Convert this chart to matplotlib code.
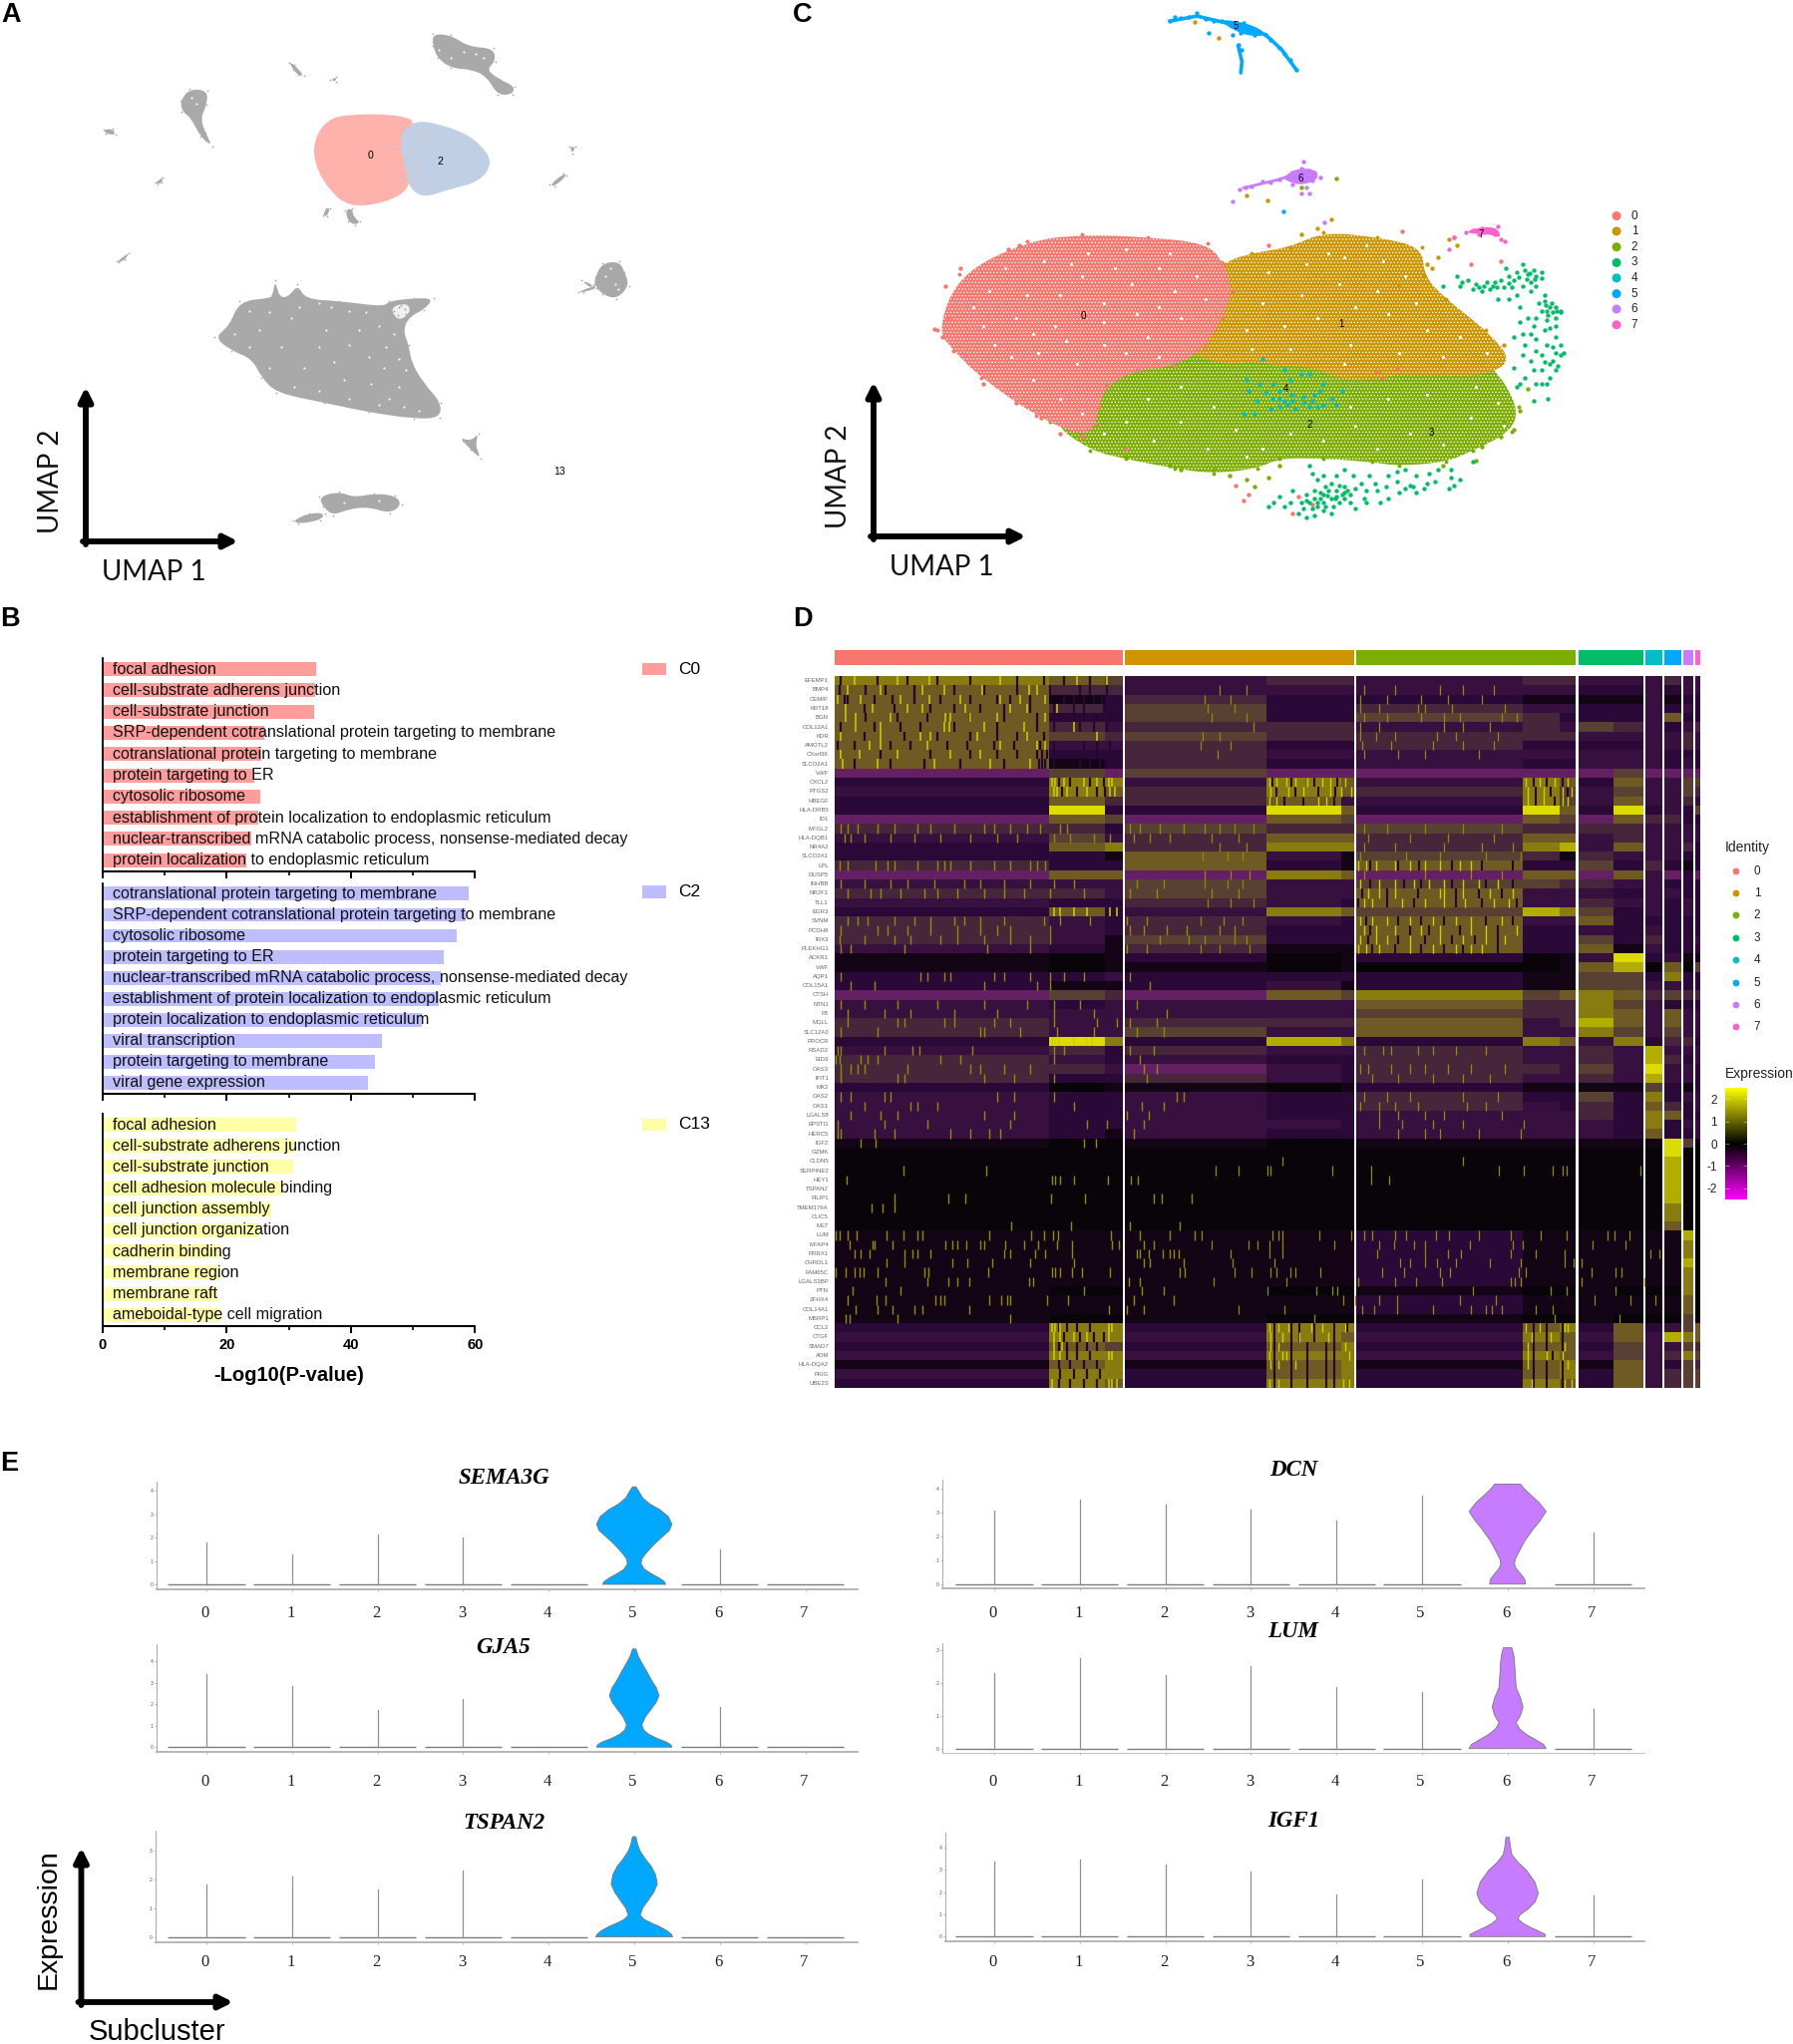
import matplotlib
matplotlib.use("Agg")
import matplotlib.pyplot as plt
import numpy as np
from matplotlib.colors import LinearSegmentedColormap, ListedColormap
from matplotlib.path import Path
from matplotlib.patches import PathPatch
from matplotlib.transforms import ScaledTranslation

W, H = 1799, 2050
fig = plt.figure(figsize=(W / 100, H / 100), dpi=100, facecolor="white")
plt.rcParams["font.family"] = ["Liberation Sans", "DejaVu Sans"]
plt.rcParams["hatch.linewidth"] = 0.6


def pax(x0, y0, x1, y1, **kw):
    return fig.add_axes([x0 / W, 1 - y1 / H, (x1 - x0) / W, (y1 - y0) / H], **kw)


def blob(ax, poly, **kw):
    """Filled region with rounded corners: the outline vertices act as Bezier control points."""
    pts = np.array(poly, float)
    mids = (pts + np.roll(pts, -1, axis=0)) / 2
    verts, codes = [mids[-1]], [Path.MOVETO]
    for p, m in zip(pts, mids):
        verts += [p, m]
        codes += [Path.CURVE3, Path.CURVE3]
    patch = PathPatch(Path(verts, codes), **kw)
    ax.add_patch(patch)
    return patch


HUES = ["#F8766D", "#CD9600", "#7CAE00", "#00BE67", "#00BFC4", "#00A9FF", "#C77CFF", "#FF61CC"]
CLUSTERS = ["0", "1", "2", "3", "4", "5", "6", "7"]

# ---------- Panel A: UMAP regions (outlines) ----------
A_GRAY = [
    [(430,880),(460,850),(480,785),(540,778),(547,770),(552,730),(560,775),(578,775),(597,742),(612,780),(680,785),
     (770,800),(780,785),(830,778),(870,778),(850,808),(822,825),(808,860),(820,900),(825,945),(850,1000),(885,1050),
     (882,1090),(830,1092),(740,1075),(650,1050),(555,1025),(525,985),(505,935),(465,915)],
    [(868,88),(905,92),(940,122),(990,126),(994,160),(975,182),(1003,208),(1032,225),(1028,246),(998,248),(978,203),
     (950,182),(905,178),(878,152),(868,120)],
    [(362,262),(380,232),(416,236),(415,272),(402,310),(412,345),(426,382),(402,357),(383,307),(365,290)],
    [(580,163),(590,168),(610,198),(598,196),(588,181)],
    [(663,209),(674,201),(674,212)],
    [(208,338),(226,336),(232,352),(213,349)],
    [(312,476),(327,462),(325,476),(316,480)],
    [(235,682),(250,667),(259,660),(251,676),(239,685)],
    [(648,562),(654,543),(662,543),(656,564)],
    [(693,548),(706,543),(710,568),(722,578),(713,587),(698,577)],
    [(1143,383),(1154,383),(1148,400)],
    [(1103,482),(1130,453),(1137,458),(1112,486)],
    [(1194,722),(1208,686),(1242,682),(1253,710),(1262,745),(1237,780),(1208,768),(1192,742)],
    [(1160,761),(1190,746),(1197,752),(1170,762)],
    [(1166,731),(1190,743),(1184,751)],
    [(928,1144),(945,1149),(960,1130),(953,1160),(965,1197),(944,1172),(928,1150)],
    [(640,1295),(680,1282),(710,1297),(750,1287),(792,1292),(806,1316),(782,1339),(740,1322),(700,1327),(668,1344),(648,1322)],
    [(588,1357),(620,1338),(652,1338),(642,1357),(598,1366)],
]
A_POCKET = [(785,800),(815,790),(825,810),(805,835),(790,825)]
A_POCKET_DOTS = [(790,810),(800,800),(812,805),(798,822),(815,818),(805,795),(785,820),(822,800)]
A_SPECKS = [(600,800),(640,790),(665,800),(700,810),(735,815),(655,860),(720,860),(760,850),(790,870),(775,905),(700,900),(640,905),
            (585,830),(540,815),(500,810),(470,870),(500,905),(540,960),(590,1010),(640,1020),(700,1040),(760,1055),(810,1060),(840,1070),
            (800,1010),(745,1000),(690,990),(770,960),(800,935),(740,930),(670,945),(610,960),(565,905),(520,860),(815,965),(780,1040)]
A_BLOB_DOTS = [(880,130),(930,135),(955,140),(970,150),(905,150),(385,255),(395,270),(1215,720),(1235,740),(1225,700),(1240,755),(690,1310),(760,1305)]
A_C0 = [(628,370),(655,312),(700,298),(790,298),(838,316),(800,345),(810,430),(825,492),(770,530),(700,540),(660,495),(632,432)]
A_C2 = [(832,316),(870,320),(930,345),(968,382),(988,425),(962,474),(900,494),(850,516),(822,492),(806,430),(795,345)]
A_C0_EDGE_MIX = [(812,370),(805,400),(795,430),(815,460),(800,470),(820,350),(790,380)]
A_C2_EDGE_MIX = [(835,345),(825,395),(840,440),(828,470),(845,480),(835,420),(850,365)]
A_LABELS = [("0",743,405),("2",882,420),("13",1123,1230)]

a = pax(0, 0, 780, 600)
a.set_xlim(0, 1560); a.set_ylim(1560, 0); a.axis("off")
for poly in A_GRAY:
    blob(a, poly, facecolor="#a9a9a9", lw=0)
    xs, ys = zip(*poly)
    a.scatter(xs, ys, s=1.6, color="#a9a9a9", lw=0)
blob(a, A_POCKET, facecolor="#f1f1f1", lw=0)
xs, ys = zip(*A_POCKET_DOTS); a.scatter(xs, ys, s=2, color="#a9a9a9", lw=0)
xs, ys = zip(*A_SPECKS); a.scatter(xs, ys, s=2.2, color="white", lw=0)
xs, ys = zip(*A_BLOB_DOTS); a.scatter(xs, ys, s=2.2, color="white", lw=0)
blob(a, A_C2, facecolor="#C0CFE3", lw=0)
blob(a, A_C0, facecolor="#FFB1AB", lw=0)
xs, ys = zip(*A_C2_EDGE_MIX); a.scatter(xs, ys, s=3, color="#FFB1AB", lw=0)
xs, ys = zip(*A_C0_EDGE_MIX); a.scatter(xs, ys, s=3, color="#C0CFE3", lw=0)
a.scatter([1112], [1215], s=3, color="#f6e3b0", lw=0)
for t, x, y in A_LABELS:
    a.text(x, y, t, ha="center", va="center", fontsize=7.5)

# ---------- Panel C: UMAP regions and readable sparse points ----------
C_REGIONS = {
    2: [(530,1070),(555,980),(650,900),(800,880),(1000,900),(1200,900),(1270,950),(1318,1060),(1305,1125),(1235,1175),(1185,1205),(1100,1215),
        (1050,1205),(960,1195),(880,1195),(840,1222),(760,1235),(690,1222),(600,1197),(535,1175),(462,1100)],
    1: [(700,800),(775,685),(830,660),(900,645),(960,605),(1060,618),(1142,645),(1145,720),(1185,780),(1258,860),(1310,945),
        (1240,985),(1130,975),(1060,985),(1000,995),(940,955),(880,955),(830,940),(790,955),(725,925),(700,900)],
    0: [(255,860),(295,715),(420,628),(520,612),(640,618),(750,635),(780,690),(795,760),(775,830),(745,905),(690,955),
        (620,965),(565,1005),(550,1060),(545,1105),(522,1140),(436,1085),(335,985),(285,915)],
}
C_DENSE_5 = [(770,52),(800,54),(840,70),(858,92),(830,95),(800,82)]
C_DENSE_6 = [(885,465),(912,438),(948,442),(952,468),(925,482),(905,478)]
C_DENSE_7 = [(1224,602),(1250,592),(1280,594),(1286,622),(1265,610),(1230,610)]
C_SPECKS = {
    0: [(430,870),(520,720),(620,820),(580,700),(480,770),(350,760),(400,830),(640,880),(700,830),(440,920),(560,900),(510,950),(610,740),
        (660,700),(340,850),(470,850),(380,700),(450,680),(530,660),(600,650),(680,660),(730,720),(745,780),(690,760),(560,790),(490,890),
        (390,930),(430,990),(480,1040),(520,1080),(600,920),(660,930),(320,800),(560,840),(420,770),(660,800),(500,690),(360,900)],
    1: [(860,710),(930,690),(1000,670),(1070,680),(1110,720),(850,790),(920,770),(990,740),(1060,760),(1130,790),(820,860),(890,850),(950,830),
        (1010,900),(1080,820),(1150,860),(1210,880),(1260,920),(1020,800),(830,910),(900,910),(1100,920),(1180,930),(1040,640),(970,660),(1000,950)],
    2: [(600,1100),(650,1150),(700,1100),(750,1170),(800,1120),(850,1170),(900,1130),(960,1150),(1020,1110),(1060,1170),(1120,1130),(1180,1160),
        (1230,1090),(1280,1050),(1150,1030),(1080,1040),(700,1010),(640,1040),(760,1060),(560,1130),(1010,1060),(1240,1010),(1290,1110),(820,1190)],
}
C_SPARSE = {
    0: [(250,858),(270,745),(275,830),(298,700),(385,650),(405,640),(340,1000),(400,1050),(445,1090),(480,1130),(265,880),
        (520,1140),(600,1170),(800,1265),(825,1290),(815,1305),(860,640),(915,1295),(905,1340),(940,1315),(1105,603),(1200,620),
        (1230,688),(1285,680),(1060,970),(1095,960),(1070,985)],
    1: [(975,572),(950,595),(920,610),(1170,670),(1190,625),(1205,640),(1150,690),(725,58),(770,98),(820,510),(858,522),(1160,700),(1100,740),(1290,900)],
    2: [(600,1190),(680,1215),(700,1225),(760,1225),(790,1240),(820,1250),(835,1270),(860,1245),(880,1215),(1290,1100),(1310,1120),
        (1285,1140),(1250,1165),(1320,1070),(1335,1015),(920,490),(985,465),(1240,1200),(1180,1215)],
    3: [(1180,745),(1205,720),(1215,735),(1240,740),(1250,760),(1275,735),(1295,700),(1310,730),(1325,690),(1335,715),(1350,720),(1360,725),
        (1340,760),(1365,770),(1375,800),(1395,812),(1350,830),(1385,850),(1320,840),(1340,870),(1370,900),(1395,925),(1380,940),(1360,965),
        (1375,985),(1350,1000),(1330,985),(1310,960),(1300,780),(1280,780),(1345,1045),(1372,1040),(1320,800),(1290,750),(1355,790),(1385,880),
        (1330,900),(1350,915),(1310,880),(1365,860),(1395,900),(1340,940),(1385,965),(1360,1000),(1315,1010),(1335,830),(1315,770),(1370,835),
        (1210,745),(1225,730),(1235,755),(1255,745),(1265,755),(1285,730),(1300,720),(1315,710),(1330,705),(1345,705),(1340,735),(1325,745),(1305,750),
        (1270,745),(1360,710),(1350,745),(1365,785),(1380,815),(1370,810),(1385,830),(1360,810),(1375,855),(1345,850),(1325,870),(1350,885),(1380,905),
        (1360,925),(1325,925),(1385,920),(1400,920),(1375,950),(1390,955),(1365,945),(1345,965),(1320,1000),(1370,1000),(1395,815),
        (1338,712),(1348,728),(1332,728),(1318,722),(1300,738),(1278,748),(1260,735),(1245,750),(1368,795),(1378,790),(1385,800),(1372,822),(1388,812),
        (860,1320),(880,1295),(905,1280),(920,1310),(945,1345),(975,1340),(945,1300),(960,1310),(985,1280),(1000,1270),(1010,1290),(975,1260),
        (950,1250),(1030,1260),(1045,1240),(1060,1280),(1080,1300),(1110,1275),(1130,1285),(1150,1260),(1170,1225),(1195,1225),(1210,1250),
        (1235,1205),(1095,1230),(990,1310),(1020,1325),(960,1330),(935,1215),(1000,1225),(925,1325),(1065,1310),(1120,1265),(1190,1275),(982,1300),
        (900,1310),(955,1285),(1000,1300),(965,1270),(930,1290),(945,1280),(960,1290),(970,1280),(950,1320),(935,1310),(965,1320),(980,1320),(975,1300),
        (995,1290),(1005,1280),(990,1265),(1020,1275),(1040,1280),(1035,1300),(1055,1260),(1075,1270),(1095,1255),(1100,1285),(1125,1270),(1145,1275),
        (1165,1255),(1155,1235),(1195,1245),(1200,1265),(960,1240),(940,1235),(985,1240),(1015,1240),(1010,1310),(1040,1310),(890,1320),(870,1310),
        (915,1340),(930,1350),(1080,1240),(1130,1240),(1110,1225),(955,1300),(940,1325),(968,1292),(985,1295),(950,1310),(930,1305),(1000,1285)],
    4: [(820,990),(825,1020),(838,1045),(835,1080),(815,1080),(850,935),(870,1000),(880,1060),(890,965),(900,990),(905,1030),(920,975),(925,1050),
        (935,975),(945,1030),(950,1060),(960,1000),(975,1040),(995,1020),(868,1040),(890,1045),(910,1065),(940,1045),(960,1055),(855,1025),(865,1065),
        (845,1000),(880,1020),(955,1020),(985,1055),(895,1055),(925,1035),(905,1045),(880,1040),(935,1060)],
    5: [(680,55),(690,45),(700,48),(715,45),(730,35),(745,50),(760,55),(775,55),(790,62),(800,70),(815,60),(825,75),(840,80),(855,90),(835,92),(810,85),
        (795,92),(752,85),(865,105),(880,125),(890,140),(900,155),(912,182),(805,118),(812,130),(888,552)],
    6: [(795,525),(808,495),(818,490),(830,487),(850,472),(865,475),(880,468),(895,460),(905,450),(920,440),(935,445),(945,450),(925,420),(940,470),(955,462),
        (930,490),(920,505),(935,505),(963,580),(905,480)],
    7: [(1222,605),(1235,600),(1250,595),(1265,600),(1280,590),(1275,610),(1285,625),(1292,630),(1255,605),(1245,610),(1190,650),(1200,620)],
}
C_LABELS = [("0",522,823),("1",994,845),("2",936,1107),("3",1158,1128),("4",893,1015),("5",800,67),("6",920,465),("7",1250,610)]
C_LEGEND_Y = [563,603,644,685,725,766,806,847]
C_LINES = {5: [[(680,55),(730,42),(790,62),(855,90)],[(855,90),(885,130),(912,183)],[(805,118),(812,160),(810,190)]],
           6: [[(815,490),(880,468),(925,445)]]}

c = pax(800, 0, 1660, 600)
c.set_xlim(0, 1568); c.set_ylim(1560, 0); c.axis("off")
for k, poly in C_REGIONS.items():
    blob(c, poly, facecolor=HUES[k], edgecolor="white", hatch=".....", lw=0)
    xs, ys = zip(*poly)
    if k == 2:
        xs, ys = zip(*poly[7:])
    if k == 1:
        xs, ys = zip(*poly[1:10])
    c.scatter(xs, ys, s=8, color=HUES[k], lw=0)
for k, pts in C_SPECKS.items():
    xs, ys = zip(*pts)
    c.scatter(xs, ys, s=5, color="white", lw=0)
blob(c, C_DENSE_5, facecolor=HUES[5], lw=0)
blob(c, C_DENSE_6, facecolor=HUES[6], lw=0)
blob(c, C_DENSE_7, facecolor=HUES[7], lw=0)
for k, segs in C_LINES.items():
    for seg in segs:
        xs, ys = zip(*seg)
        c.plot(xs, ys, color=HUES[k], lw=2.6 if k == 5 else 2, solid_capstyle="round")
for k, pts in C_SPARSE.items():
    xs, ys = zip(*pts)
    c.scatter(xs, ys, s=10, color=HUES[k], lw=0, zorder=3)
for t, x, y in C_LABELS:
    c.text(x, y, t, ha="center", va="center", fontsize=7, zorder=5)
c.scatter([1497] * 8, C_LEGEND_Y, s=42, color=HUES, lw=0, clip_on=False)
for t, y in zip(CLUSTERS, C_LEGEND_Y):
    c.text(1530, y, t, ha="center", va="center", fontsize=8.5, color="#222222")

# ---------- Panel B: enrichment bars ----------
B_C0_TERMS = ["focal adhesion","cell-substrate adherens junction","cell-substrate junction",
              "SRP-dependent cotranslational protein targeting to membrane","cotranslational protein targeting to membrane",
              "protein targeting to ER","cytosolic ribosome","establishment of protein localization to endoplasmic reticulum",
              "nuclear-transcribed mRNA catabolic process, nonsense-mediated decay","protein localization to endoplasmic reticulum"]
B_C0_VALS = [34.4,34.2,34.0,26.1,25.5,24.4,25.4,25.0,24.0,23.1]
B_C2_TERMS = ["cotranslational protein targeting to membrane","SRP-dependent cotranslational protein targeting to membrane",
              "cytosolic ribosome","protein targeting to ER","nuclear-transcribed mRNA catabolic process, nonsense-mediated decay",
              "establishment of protein localization to endoplasmic reticulum","protein localization to endoplasmic reticulum",
              "viral transcription","protein targeting to membrane","viral gene expression"]
B_C2_VALS = [59.0,58.4,57.0,54.9,54.4,54.2,51.4,44.9,43.8,42.8]
B_C13_TERMS = ["focal adhesion","cell-substrate adherens junction","cell-substrate junction","cell adhesion molecule binding",
               "cell junction assembly","cell junction organization","cadherin binding","membrane region","membrane raft",
               "ameboidal-type cell migration"]
B_C13_VALS = [31.1,30.8,30.7,28.8,27.1,25.2,19.0,18.8,18.5,19.0]
B_SETS = [("C0",B_C0_TERMS,B_C0_VALS,"#FF9C9C",660,874,671),
          ("C2",B_C2_TERMS,B_C2_VALS,"#BDBDFF",885.5,1097,894.5),
          ("C13",B_C13_TERMS,B_C13_VALS,"#FFFFA8",1117,1330,1127.5)]
for i, (name, terms, vals, col, top, bot, legy) in enumerate(B_SETS):
    b = pax(103, top, 476.5, bot)
    b.barh(range(10), vals, height=0.66, color=col, lw=0)
    b.set_xlim(0, 60); b.set_ylim(9.53, -0.52)
    for j, t in enumerate(terms):
        b.text(1.68, j, t, va="center", ha="left", fontsize=11.6, color="#111111", clip_on=False, zorder=4)
    for s in ("top", "right"):
        b.spines[s].set_visible(False)
    b.spines["left"].set_linewidth(1.3); b.spines["bottom"].set_linewidth(1.5)
    b.set_yticks([])
    b.set_xticks([0, 20, 40, 60]); b.set_xticks([10, 30, 50], minor=True)
    b.tick_params(axis="x", which="major", length=5, width=1.4)
    b.tick_params(axis="x", which="minor", length=3, width=1.2)
    if i == 2:
        b.set_xticklabels(["0", "20", "40", "60"], fontweight="bold", fontsize=10.5)
        b.set_xlabel("-Log10(P-value)", fontweight="bold", fontsize=14.5, labelpad=10)
    else:
        b.set_xticklabels([])
    leg = pax(644, legy - 6, 668, legy + 6); leg.axis("off")
    leg.barh([0], [1], height=1, color=col); leg.set_xlim(0, 1); leg.set_ylim(-.5, .5)
    fig.text(680 / W, 1 - legy / H, name, va="center", ha="left", fontsize=12.5)

# ---------- Panel D: heatmap (block-level levels) ----------
GENES = ["EFEMP1","BMP4","CEMIP","KRT18","BGN","COL12A1","KDR","AMOTL2","CXorf36","SLCO2A1","VWF","CXCL2","PTGS2","HBEGF",
         "HLA-DRB5","ID1","MFGL2","HLA-DQB1","NR4A2","SLCO2A1","LPL","DUSP5","INHBB","NR2F1","TLL1","EGR3","SVNM","PCDH9","IRX3",
         "PLEKHG1","ACKR1","VWF","AQP1","COL15A1","CTSH","NTN1","F8","MGLL","SLC12A2","PROCR","RSAD2","EID3","OAS3","IFIT1","MX2",
         "OAS2","OAS1","LGALS8","EPSTI1","HERC5","IGF2","GZMK","CLDN5","SERPINE2","HEY1","TSPAN2","FILIP1","TMEM176A","CLIC5","MET",
         "LUM","MFAP4","PRRX1","CHRDL1","FAM65C","LGALS3BP","PTN","ZFHX4","COL14A1","MSRP1","CCL2","CTGF","SMAD7","ADM","HLA-DQA2","PKIG","UBE2S"]
BLOCK_WIDTHS = [215,56,18, 142,75,13, 167,37,16, 35,30, 17, 17, 9.5, 5.5]
BLOCK_CLUSTER = [0,0,0, 1,1,1, 2,2,2, 3,3, 4, 5, 6, 7]
LEVELS = """
765344344333433
644333333223233
612422211113122
642522433223232
622522542223622
643444343543234
654544444333343
633422422223343
622433333333222
612422322333232
m5m5mmmmmm5mmmm
277376376263355
376476475353354
264463375363343
292296296292325
m65m65m65m64422
442544544443333
353466466343333
267477478363342
221631541433322
422621622524212
m66m76m66m63m2m
333533554433222
443533633323322
322432633433232
262376587523232
432432633622222
432422622323222
431522622524223
321411622613222
101201201392311
101101001680605
223222211552722
211231211553322
m54m65756764544
323333644753222
333333544763633
433444634863633
433533633753533
297287276372442
342433433438333
432322433438423
443m32443539332
422432433438332
201101211115212
322322422527233
322322432426423
322322333427622
322332333327233
321322333326223
100100111111950
000000000000900
000000000000800
000000000000800
000000000000800
000000000000800
000000000000800
000000000000700
000000000000700
000000000000600
111111211111180
111111211111170
111111211111170
111111211111180
111111211111170
111111211111170
100100100100070
111111211111160
111111211111160
100100100100050
277277267262356
377376376363876
265267266253354
377377376353475
167167167163254
377267267263455
276277276263455
""".split()
LEVEL_COLORS = {"0":"#08040a","1":"#130516","2":"#2a0838","3":"#381040","4":"#47263c","5":"#584032","6":"#6e5a22",
                "7":"#887c10","8":"#b3ad00","9":"#dcdc00","m":"#651f63"}
LEVEL_KEYS = list(LEVEL_COLORS)
# single-cell streaks readable in the picture: gene row -> positions along the cell axis
STREAKS_LEFT = {51:[190,235,862,897],54:[318,568],55:[148,765,775,790,830,932,1003,1022],57:[290,453,505,763,863,1072,1095,1185],
    58:[223,256,292],60:[642,823,1000,1148],61:[113,125,150,178,268,318,360,375,575,703,742,768,782,942,1030,1120,1195],
    62:[155,225,232,285,445,465,480,507,548,562,625,680,722,780,825,945,965,1040,1072],
    63:[172,190,215,320,345,360,398,620,640,715,745,825,1020,1030,1055,1098,1120,1130,1145],
    64:[268,320,465,510,585,698,830,1040,1060,1160],65:[113,145,170,185,197,240,380,392,572,765,775,790,825,855,940,1150,1165],
    66:[265,390,453,480,515,697,707,995,1030],67:[165,310,860,1035,1100],68:[150,238,265,415,430,440,577,612,630,640,750,812,1010,1130],
    69:[175,240,285,350,375,515,935,990,1040],70:[145,157,300,640],
    17:[130,150,180,240,290,360,400,470,560,590,640,690,730,790,810,1000,1030,1090,1160],18:[140,160,200,280,350,430,520,600,660,770,820,890,940,1010,1060,1120],
    21:[125,150,235,270,290,360,420,440,460,520,590,640,700,720,745],23:[130,200,280,330,410,500,550,620,700,770,830,1020,1100],
    24:[150,220,250,310,380,420,480,560,620,680,760,860,1000,1080],27:[150,180,210,290,350,400,470,500,550,620,740,790,880,990,1050],
    28:[130,240,270,330,400,480,550,600,640,760,1000,1040,1110,1170],29:[125,200,290,340,430,480,560,640,700,760,1090,1175],30:[130,160,320,570,700,990,1050],
    33:[130,370,390,440,460,590,620,700,760,800,860,1000],34:[160,230,560,720,760,1060],36:[130,200,300,420,560,690,770,850,1020],37:[150,260,340,470,600,770,890,1110],
    38:[150,300,320,440,470,590,640,770,900,960,1000,1080],39:[130,240,550,560,670,780,890,1020,1100],41:[120,130,260,345,365,525,770,800,1000,1070],
    42:[115,125,190,210,240,430,490,770,1030],43:[130,160,180,200,330,520,550,620,700,1040,1080],44:[130,300,320,560,650,770,1050],
    46:[130,160,260,280,600,650,770,1140,1160],47:[200,340,360,420,830,1035,1100],48:[160,250,300,560,650,990,1055],49:[120,260,390,640,870,930,1040],50:[120,130,230,290,460,520,575,610,1010],
}
STREAKS_RIGHT = {53:[225,700],54:[50,110,185,195,357,458,792,858,935,960,970,1165],55:[458,505],
    61:[12,200,215,225,322,405,440,460,520,550,628,663,742,825,902,970,1078,1098,1135],
    62:[40,135,160,190,225,360,480,518,572,600,717,830,855,1040,1125],63:[90,190,225,475,600,660,695,825,890,965,1190,1215],
    64:[95,205,535,560,600,630,680,770,850,965,990,1010],65:[100,145,195,210,245,258,325,487,545,640,665,845,865,1038,1100,1115],
    66:[45,235,425,520,575,645,825,835,850,1010,1175],67:[185,315,355,370,725,930,970,1100],68:[385,415,480,525,690,785,1045,1140,1205],
    69:[110,230,435,465,525,620,720,760,775,800,890,935],70:[310,940,1110],
    2:[60,130,440,520,640,700,780],3:[20,90,430,500,590,660,750],4:[30,100,430,480,580,600,670,810],5:[40,130,440,500,590,650,690,800,840],
    6:[150,430,480,650,700,770],7:[15,60,430,470,520,630,680,790],8:[10,90,435,510,620,700,780],9:[55,440,530,600,740],
    17:[20,60,100,150,440,500,600,700,800],18:[40,110,450,560,660,780],19:[60,130,440,520,650,750,830],20:[15,80,120,430,550,640,760,850],22:[20,90,140,440,600,720,800],
    23:[20,80,120],24:[40,110],25:[30,90,150],27:[10,70,120],28:[60,100],29:[20,100,130],30:[10,60,140],
    41:[440,490,510,580,620,680,760],43:[430,450,510,560,600,660,720,810],44:[460,530,620,700,770],46:[440,500,560,700,790],47:[430,480,520,580,710,760],
    48:[480,530,600,650,800],49:[480,540,620,700,860],50:[530,600,640,740,850]}
BRIGHT_LEFT = {1:[170,300,395,610,840,930],2:[150,250,375,440,555,695,720],3:[120,190,310,395,490,610,670,745],4:[145,225,330,375,505,640,690,780],
    5:[145,175,280,445,460,520,600,745],6:[175,250,440,455,560,680,830],7:[130,250,370,400,540,690,900],8:[215,250,390,610,720,745],
    9:[130,185,300,460,550],10:[135,240,410,580,700],12:[765,775,800,860,900,935,945],13:[770,780,810,870,940,955],26:[770,790,830,870,940,960],
    40:[765,775,785,830,870,885],71:[765,775,790,935,945],72:[770,790,830,870,935],73:[770,795],74:[770,790,935,945],77:[765,935,945,960]}
DARK_LEFT = {1:[130,240,330,420,520,660,740,800,880],2:[125,205,265,350,470,560,660,760,850,880,930],3:[140,150,230,285,350,430,520,600,640,700,800,830,860,890,915],
    4:[200,290,400,470,550,620,700,770,830,860,920],5:[205,300,390,520,620,720,770,790,830,860,900,940],6:[130,230,310,370,470,600,720,770,850,890,930],
    7:[200,320,420,520,600,660,740],8:[120,170,280,340,450,510,590,650,730,770,860,900,940],9:[250,400,520,600,660,720,735,750,770,850,900,950,965],
    10:[170,280,380,490,620,725,735,745,770,850,880,910,930],12:[785,820,880,920],13:[795,840,900,925],71:[785,810,840,880],72:[800,850,890,920],
    73:[785,810,840,870,900],74:[810,840,880],75:[785,820,860,900],76:[790,830,870,910],77:[785,820,860,900]}
BRIGHT_RIGHT = {21:[425,445,470,520,560,600,640,690,720],23:[430,480,520,570,610,650,700,740,790],24:[450,480,520,640,650,700,770,830],
    25:[440,460,540,600,650,705,780,820],27:[430,460,500,560,620,680,720,800],28:[440,470,520,590,640,720,760,840],29:[430,470,500,560,640,700,760,810],
    30:[425,445,480,560,620,680,720,750],12:[190,210,235,260,290,330,350,390,865,900,940,975],13:[195,240,280,350,380,405,870,910,960,985],
    14:[190,210,320,340,870,910,960,975],71:[190,215,240,300,330,390,865,900,965,975],72:[195,225,270,345,880,930],73:[195,215,390,870,965],
    74:[190,225,235,400,870,920,960],75:[195,215,260,870,975],77:[190,215,385,400,880,965,985]}
DARK_RIGHT = {21:[455,530,585,670,750,830],23:[455,545,590,670,760,830],24:[435,500,580,680,740,800],25:[425,500,570,680,750,840],
    27:[445,530,590,650,760,830],28:[455,560,610,690,790],29:[450,530,600,670,730,790],30:[460,520,590,650,700,790],
    12:[200,250,310,370,885,920,960],13:[210,260,320,365,890,930,975],14:[230,280,360,890,940],71:[205,250,270,310,360,395,885,920,960],
    72:[205,250,270,310,360,885,920,960],73:[205,250,290,340,360,885,920,960],74:[205,250,290,340,360,885,935],75:[205,250,290,340,360,885,920,960],
    76:[205,250,290,340,360,885,920,960],77:[205,250,290,340,360,885,920,960]}

d = pax(837, 678, 1706.5, 1392)
d.set_xlim(837, 1706.5); d.set_ylim(77, 0); d.axis("off")
level_cmap = ListedColormap(list(LEVEL_COLORS.values()))
x = 837.0
top = pax(837, 652, 1706.5, 667); top.set_xlim(837, 1706.5); top.set_ylim(0, 1); top.axis("off")
for bi, (w, cl) in enumerate(zip(BLOCK_WIDTHS, BLOCK_CLUSTER)):
    if bi and BLOCK_CLUSTER[bi - 1] != cl:
        x += 2.2
    col = [[LEVEL_KEYS.index(row[bi])] for row in LEVELS]
    d.pcolormesh([x, x + w], np.arange(78), np.array(col), cmap=level_cmap, vmin=-.5, vmax=len(LEVEL_KEYS) - .5)
    top.barh(0.5, w + (0.3 if bi + 1 < len(BLOCK_WIDTHS) and BLOCK_CLUSTER[bi + 1] == cl else 0), left=x, height=1, color=HUES[cl], lw=0)
    x += w
for src, conv, colr, lw in [(STREAKS_LEFT, lambda v: 800 + v / 3, "#8f8c05", 1.0),
                            (STREAKS_RIGHT, lambda v: 1200 + v / 2.618, "#8f8c05", 0.9),
                            (DARK_LEFT, lambda v: 800 + v / 3, "#26082f", 1.6),
                            (DARK_RIGHT, lambda v: 1200 + v / 2.618, "#26082f", 1.5),
                            (BRIGHT_LEFT, lambda v: 800 + v / 3, "#d2cf00", 1.1),
                            (BRIGHT_RIGHT, lambda v: 1200 + v / 2.618, "#d2cf00", 1.0)]:
    for r, xs in src.items():
        d.vlines([conv(v) for v in xs], r - 1, r, color=colr, lw=lw)
for i, g in enumerate(GENES):
    d.text(831, i + 0.5, g, ha="right", va="center", fontsize=4.3, color="#666666", clip_on=False)

fig.text(1730 / W, 1 - 850 / H, "Identity", fontsize=10, va="center", color="#222222")
ID_Y = [874, 896, 918, 941, 963, 986, 1008, 1030]
ida = pax(1730, 860, 1790, 1045); ida.set_xlim(1730, 1790); ida.set_ylim(1045, 860); ida.axis("off")
ida.scatter([1741] * 8, ID_Y, s=24, color=HUES, lw=0)
for t, y in zip(CLUSTERS, ID_Y):
    ida.text(1762, y, t, ha="center", va="center", fontsize=8.5, color="#222222")

fig.text(1730 / W, 1 - 1077 / H, "Expression", fontsize=10, va="center", color="#222222")
EXPR_TICKS = [2, 1, 0, -1, -2]
pny = LinearSegmentedColormap.from_list("pny", ["#FF00FF", "#000000", "#FFFF00"])
cb = pax(1730, 1091, 1752, 1203)
cb.imshow(np.linspace(2.49, -2.49, 256)[:, None], cmap=pny, vmin=-2.5, vmax=2.5, aspect="auto", extent=[0, 1, -2.49, 2.49])
cb.set_xticks([]); cb.set_yticks(EXPR_TICKS)
cb.set_yticklabels(EXPR_TICKS, fontsize=8.5, color="#222222")
cb.tick_params(axis="y", length=0, pad=6, direction="in")
cb.hlines(EXPR_TICKS, 0, 0.2, color="white", lw=0.5, alpha=.6); cb.hlines(EXPR_TICKS, 0.8, 1, color="white", lw=0.5, alpha=.6)
for s in cb.spines.values():
    s.set_visible(False)

# ---------- Panel E: violins ----------
SPIKES = {
    "SEMA3G":[1.8,1.27,2.15,2.02,0,0,1.5,0],
    "GJA5":[3.39,2.85,1.71,2.25,0,0,1.86,0],
    "TSPAN2":[1.8,2.1,1.63,2.3,0,0,0,0],
    "DCN":[3.08,3.51,3.32,3.11,2.66,3.71,0,2.14],
    "LUM":[2.3,2.76,2.23,2.5,1.87,1.71,0,1.2],
    "IGF1":[3.37,3.49,3.25,2.95,1.9,2.59,0,1.85],
}
VIOLINS = {
    "SEMA3G":[(4.18,.02),(3.95,.06),(3.7,.1),(3.45,.18),(3.2,.3),(2.9,.4),(2.57,.44),(2.3,.41),(2.04,.33),(1.7,.23),(1.38,.15),(1.1,.09),(.88,.08),(.65,.12),(.46,.2),(.28,.29),(.13,.35),(0,.37)],
    "GJA5":[(4.56,.02),(4.2,.05),(3.84,.1),(3.5,.15),(3.12,.2),(2.75,.26),(2.4,.29),(2.1,.26),(1.77,.2),(1.4,.13),(1.05,.09),(.8,.11),(.6,.17),(.4,.27),(.23,.38),(.1,.43),(0,.44)],
    "TSPAN2":[(3.47,.02),(3.2,.04),(2.97,.07),(2.7,.13),(2.44,.2),(2.15,.25),(1.83,.27),(1.55,.23),(1.29,.17),(1.0,.1),(.75,.07),(.6,.12),(.48,.2),(.35,.3),(.22,.38),(.1,.43),(0,.45)],
    "DCN":[(4.18,.15),(4.0,.19),(3.76,.26),(3.4,.37),(3.03,.45),(2.65,.38),(2.3,.3),(1.8,.2),(1.33,.13),(1.05,.09),(.84,.08),(.65,.1),(.44,.15),(.2,.2),(0,.21)],
    "LUM":[(3.06,.05),(2.85,.07),(2.68,.08),(2.25,.09),(1.85,.1),(1.55,.15),(1.26,.18),(1.0,.15),(.78,.1),(.6,.14),(.43,.22),(.28,.32),(.13,.42),(0,.45)],
    "IGF1":[(4.47,.02),(4.1,.03),(3.69,.05),(3.35,.12),(2.99,.22),(2.45,.32),(1.94,.36),(1.55,.32),(1.24,.24),(1.0,.15),(.8,.12),(.6,.18),(.45,.25),(.25,.36),(.1,.44),(0,.44)],
}
E_PANELS = [
    ("SEMA3G",5,"#00A9FF",(156.7,1486,860,1593.7),(-.2,4.4),[0,1,2,3,4],505,1482,1617),
    ("GJA5",5,"#00A9FF",(156.7,1649.3,860,1757),(-.22,4.77),[0,1,2,3,4],505,1652,1785.5),
    ("TSPAN2",5,"#00A9FF",(155.6,1836,860,1948),(-.19,3.68),[0,1,2,3],505,1828,1967),
    ("DCN",6,"#C77CFF",(944.7,1483.6,1649,1593.3),(-.19,4.38),[0,1,2,3,4],1297,1475,1617),
    ("LUM",6,"#C77CFF",(944.7,1648,1649,1758),(-.13,3.2),[0,1,2,3],1297,1636.5,1785.5),
    ("IGF1",6,"#C77CFF",(947.6,1837.6,1649,1947.4),(-.23,4.7),[0,1,2,3,4],1297,1827,1967),
]
for gene, hi, col, box, ylim, yt, tx, ty, ly in E_PANELS:
    e = pax(*box)
    unit = 85.8
    x0_px = 207 if box[0] < 500 else 997
    e.set_xlim((box[0] - x0_px) / unit, (box[2] - x0_px) / unit)
    e.set_ylim(*ylim)
    for k, h in enumerate(SPIKES[gene]):
        if k == hi:
            continue
        e.plot([k - .45, k + .45], [0, 0], color="#7d7d7d", lw=1.0, solid_capstyle="butt")
        if h:
            e.plot([k, k], [0, h], color="#909090", lw=0.9)
    ys, ws = zip(*VIOLINS[gene])
    ys, ws = np.array(ys), np.array(ws)
    e.fill(np.r_[hi - ws, (hi + ws)[::-1]], np.r_[ys, ys[::-1]], facecolor=col, edgecolor="#777777", lw=0.6)
    for s in ("top", "right"):
        e.spines[s].set_visible(False)
    e.spines["left"].set_color("#999999"); e.spines["left"].set_linewidth(0.6)
    e.spines["bottom"].set_color("#aaaaaa"); e.spines["bottom"].set_linewidth(1.2 if gene != "LUM" else 0.5)
    e.set_yticks(yt); e.set_yticklabels(yt, fontsize=3.6, color="#555555")
    e.tick_params(axis="y", length=1.2, width=0.4, pad=1, color="#888888")
    e.set_xticks(range(8)); e.set_xticklabels(CLUSTERS, fontsize=12, family="Liberation Serif", color="#222222")
    e.tick_params(axis="x", length=1.2, width=0.4, pad=(ly - box[3] - 8.5) * 0.72, color="#888888")
    for lbl in e.get_xticklabels():
        lbl.set_transform(lbl.get_transform() + ScaledTranslation(-1.0 / 72, 0, fig.dpi_scale_trans))
    fig.text(tx / W, 1 - ty / H, gene, ha="center", va="center", fontsize=16.5,
             family="Liberation Serif", fontweight="bold", fontstyle="italic")

# ---------- Annotations: panel letters, axis arrows ----------
o = fig.add_axes([0, 0, 1, 1], facecolor="none")
o.set_xlim(0, W); o.set_ylim(H, 0); o.axis("off")
for t, x, y in [("A",11,15),("C",805,15),("B",10,621),("D",805,621),("E",9,1468)]:
    o.text(x, y, t, fontsize=19.5, fontweight="bold", ha="center", va="center")


def arrow(x0, y0, x1, y1):
    o.annotate("", xy=(x1, y1), xytext=(x0, y0),
               arrowprops=dict(arrowstyle="-|>", color="black", lw=4.2, mutation_scale=20, shrinkA=0, shrinkB=0))


AXIS_SETS = [((86,543),(86,388),(239,543),"UMAP 2","UMAP 1",(51,483),(154,574)),
             ((876,538),(876,383),(1029,538),"UMAP 2","UMAP 1",(841,478),(944,569))]
for corner, up, right, yl, xl, yp, xp in AXIS_SETS:
    arrow(corner[0], corner[1] + 3, up[0], up[1])
    arrow(corner[0] - 3, corner[1], right[0], right[1])
    o.text(*yp, yl, rotation=90, ha="center", va="center", fontsize=20, family="Lato", color="#111111")
    o.text(*xp, xl, ha="center", va="center", fontsize=20, family="Lato", color="#111111")
arrow(81.5, 2011, 81.5, 1853)
arrow(78.5, 2008, 234, 2008)
o.text(49, 1925, "Expression", rotation=90, ha="center", va="center", fontsize=20.5)
o.text(158, 2038, "Subcluster", ha="center", va="center", fontsize=21)

fig.savefig("out.png", dpi=100, facecolor="white")
